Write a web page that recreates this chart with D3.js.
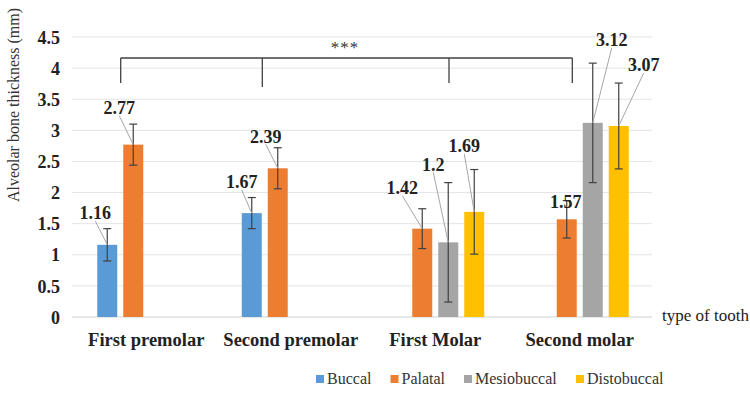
<!DOCTYPE html>
<html>
<head>
<meta charset="utf-8">
<script src="https://cdn.jsdelivr.net/npm/d3@7"></script>
</head>
<body style="margin:0;padding:0;background:#fff">
<svg id="chart" width="750" height="401" style="display:block"></svg>
<script>
// ---------- data ----------
const categories = ["First premolar", "Second premolar", "First Molar", "Second molar"];
const seriesNames = ["Buccal", "Palatal", "Mesiobuccal", "Distobuccal"];
const buccal      = [1.16, 1.67, null, null];
const palatal     = [2.77, 2.39, 1.42, 1.57];
const mesiobuccal = [null, null, 1.2, 3.12];
const distobuccal = [null, null, 1.69, 3.07];
const buccalErr      = [0.26, 0.25, null, null];
const palatalErr     = [0.33, 0.33, 0.32, 0.30];
const mesiobuccalErr = [null, null, 0.96, 0.96];
const distobuccalErr = [null, null, 0.68, 0.69];
const yTickValues = [0, 0.5, 1, 1.5, 2, 2.5, 3, 3.5, 4, 4.5];
const yTickLabels = ["0", "0.5", "1", "1.5", "2", "2.5", "3", "3.5", "4", "4.5"];
const yTitle = "Alveolar bone thickness (mm)";
const xTitle = "type of tooth";
const significance = "***";

// ---------- layout / style ----------
const FONT = '"Liberation Serif"';
const colors = ["#5B9BD5", "#ED7D31", "#A5A5A5", "#FFC000"];
// data label offsets (px) relative to the bar top, per series / category
const labelOffsets = [
  [[-12, -32], [-10, -31], null, null],
  [[-14, -37], [-12, -32], [-20, -41], [-1, -18]],
  [null, null, [-15, -78], [19, -83]],
  [null, null, [-10, -66], [25, -61]]
];

const values = [buccal, palatal, mesiobuccal, distobuccal];
const errs = [buccalErr, palatalErr, mesiobuccalErr, distobuccalErr];

const svg = d3.select("#chart");

const x = d3.scaleBand().domain(categories).range([74, 652]).paddingInner(0).paddingOuter(0);
const bw = 20, step = 26;
const groupSpan = step * 3 + bw;
const sub = d3.scaleBand().domain(seriesNames)
  .range([x.bandwidth() / 2 - groupSpan / 2, x.bandwidth() / 2 + groupSpan / 2])
  .paddingInner(1 - bw / step).paddingOuter(0);
const y = d3.scaleLinear().domain([0, 4.5]).range([317, 37]);

// gridlines
svg.append("g").selectAll("line").data(yTickValues).join("line")
  .attr("x1", 72).attr("x2", 652)
  .attr("y1", d => y(d)).attr("y2", d => y(d))
  .attr("stroke", d => d === 0 ? "#d0d0d0" : "#e4e4e4")
  .attr("stroke-width", 1);

// y axis tick labels
const yAxis = d3.axisLeft(y).tickValues(yTickValues)
  .tickFormat((d, i) => yTickLabels[i]).tickSize(0).tickPadding(0);
const gy = svg.append("g").attr("transform", "translate(60,0)").call(yAxis);
gy.select(".domain").remove();
gy.attr("font-family", null).attr("font-size", null);
gy.selectAll("text")
  .style("font-family", FONT)
  .style("font-size", "18px").style("font-weight", "bold").attr("fill", "#222")
  .attr("dy", "0.34em");

// y title
svg.append("text")
  .attr("transform", "translate(19,105) rotate(-90)")
  .attr("text-anchor", "middle")
  .style("font-family", FONT)
  .style("font-size", "16px").attr("fill", "#333")
  .text(yTitle);

// x axis category labels
const xAxis = d3.axisBottom(x).tickSize(0).tickPadding(0);
const gx = svg.append("g").attr("transform", "translate(0,346)").call(xAxis);
gx.select(".domain").remove();
gx.attr("font-family", null).attr("font-size", null);
gx.selectAll("text")
  .style("font-family", FONT)
  .style("font-size", "18.5px").style("font-weight", "bold").attr("fill", "#222")
  .attr("dy", 0);

svg.append("text").attr("x", 662).attr("y", 321)
  .style("font-family", FONT)
  .style("font-size", "17px").attr("fill", "#222").text(xTitle);

// bars
const flat = [];
seriesNames.forEach((s, si) => {
  categories.forEach((c, ci) => {
    const v = values[si][ci];
    if (v != null) flat.push({ s, si, c, ci, v, e: errs[si][ci] });
  });
});

svg.append("g").selectAll("rect").data(flat).join("rect")
  .attr("x", d => x(d.c) + sub(d.s))
  .attr("y", d => y(d.v))
  .attr("width", sub.bandwidth())
  .attr("height", d => y(0) - y(d.v))
  .attr("fill", d => colors[d.si]);

// error bars
const eg = svg.append("g").attr("stroke", "#404040").attr("stroke-width", 1.2);
flat.forEach(d => {
  const cx = x(d.c) + sub(d.s) + sub.bandwidth() / 2;
  const y1 = y(d.v + d.e), y2 = y(d.v - d.e);
  eg.append("line").attr("x1", cx).attr("x2", cx).attr("y1", y1).attr("y2", y2);
  eg.append("line").attr("x1", cx - 4).attr("x2", cx + 4).attr("y1", y1).attr("y2", y1);
  eg.append("line").attr("x1", cx - 4).attr("x2", cx + 4).attr("y1", y2).attr("y2", y2);
});

// data labels with leader lines
const lg = svg.append("g");
flat.forEach(d => {
  const off = labelOffsets[d.si][d.ci];
  const cx = x(d.c) + sub(d.s) + sub.bandwidth() / 2;
  const ty = y(d.v);
  const lx = cx + off[0], ly = ty + off[1];
  if (Math.abs(off[1]) > 25) {
    lg.append("line")
      .attr("x1", lx).attr("y1", ly + 8)
      .attr("x2", cx).attr("y2", ty)
      .attr("stroke", "#a6a6a6").attr("stroke-width", 1);
  }
  lg.append("text")
    .attr("x", lx).attr("y", ly).attr("dy", "0.35em")
    .attr("text-anchor", "middle")
    .style("font-family", FONT)
    .style("font-size", "18px").style("font-weight", "bold").attr("fill", "#222")
    .text(d.v);
});

// significance bracket
const bracketY = 58;
const bx = [120.7, 262.3, 449, 572.3];
const bDrop = [25, 29, 25, 25];
const bg = svg.append("g").attr("stroke", "#404040").attr("stroke-width", 1.3).attr("fill", "none");
bg.append("line").attr("x1", bx[0]).attr("x2", bx[3]).attr("y1", bracketY).attr("y2", bracketY);
bx.forEach((v, i) => {
  bg.append("line").attr("x1", v).attr("x2", v).attr("y1", bracketY).attr("y2", bracketY + bDrop[i]);
});
svg.append("text").attr("x", 345).attr("y", 53).attr("text-anchor", "middle")
  .style("font-family", FONT)
  .style("font-size", "17px").attr("fill", "#333").attr("letter-spacing", 1).text(significance);

// legend
const legendX = [316, 390.5, 464, 576];
const leg = svg.append("g");
seriesNames.forEach((s, i) => {
  leg.append("rect").attr("x", legendX[i]).attr("y", 375).attr("width", 8).attr("height", 8)
    .attr("fill", colors[i]);
  leg.append("text").attr("x", legendX[i] + 11).attr("y", 384)
    .style("font-family", FONT)
    .style("font-size", "16px").attr("fill", "#333").text(s);
});
</script>
</body>
</html>
